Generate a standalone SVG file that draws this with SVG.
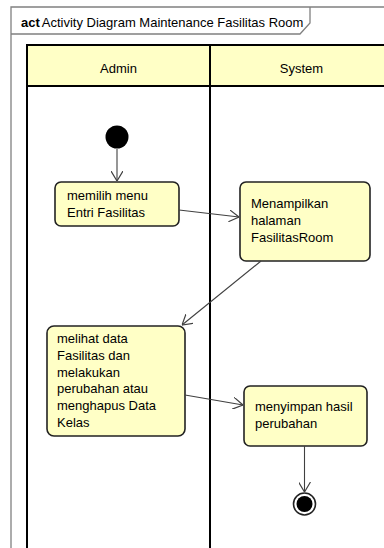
<svg xmlns="http://www.w3.org/2000/svg" width="384" height="548" viewBox="0 0 384 548">
<defs>
<style>
.frame{fill:none;stroke:#808080;stroke-width:1.3}
.lane{fill:none;stroke:#000;stroke-width:2}
.hdr{fill:#ffffc6;stroke:none}
.act{fill:#ffffc6;stroke:#222;stroke-width:1.6}
.t{font-family:"Liberation Sans",Arial,sans-serif;font-size:13px;fill:#000}
.c{text-anchor:middle}
.edge{fill:none;stroke:#404040;stroke-width:1.1}
</style>
<marker id="arr" viewBox="0 0 10 12" refX="10" refY="6" markerWidth="10" markerHeight="12" markerUnits="userSpaceOnUse" orient="auto">
<path d="M0,0 L10,6 L0,12" fill="none" stroke="#404040" stroke-width="1.2"/>
</marker>
</defs>
<rect width="384" height="548" fill="#fff"/>
<g id="frame">
<path class="frame" d="M11,548 L11,7 L384,7"/>
<path class="frame" d="M11,34 L300,34 L310,23 L310,7"/>
<text class="t" x="21" y="27"><tspan font-weight="bold">act</tspan><tspan dx="2">Activity Diagram Maintenance Fasilitas Room</tspan></text>
</g>
<g id="lanes">
<rect class="hdr" x="27" y="45" width="357" height="41"/>
<path class="lane" d="M27,548 L27,45 L384,45 M27,86 L384,86 M210,45 L210,548"/>
<text class="t c" x="118.5" y="73">Admin</text>
<text class="t c" x="301.5" y="73">System</text>
</g>
<g id="start">
<circle cx="117" cy="137" r="11.5" fill="#000"/>
</g>
<g id="n1">
<rect class="act" x="55" y="182" width="124" height="44" rx="6"/>
<text class="t" x="67" y="200">memilih menu</text>
<text class="t" x="67" y="217">Entri Fasilitas</text>
</g>
<g id="n2">
<rect class="act" x="240" y="182" width="130" height="79" rx="6"/>
<text class="t" x="251" y="208">Menampilkan</text>
<text class="t" x="251" y="225">halaman</text>
<text class="t" x="251" y="242">FasilitasRoom</text>
</g>
<g id="n3">
<rect class="act" x="47" y="326" width="138" height="110" rx="7"/>
<text class="t" x="57" y="343">melihat data</text>
<text class="t" x="57" y="360">Fasilitas dan</text>
<text class="t" x="57" y="377">melakukan</text>
<text class="t" x="57" y="393">perubahan atau</text>
<text class="t" x="57" y="410">menghapus Data</text>
<text class="t" x="57" y="427">Kelas</text>
</g>
<g id="n4">
<rect class="act" x="244" y="386" width="123" height="60" rx="6"/>
<text class="t" x="255" y="411">menyimpan hasil</text>
<text class="t" x="255" y="428">perubahan</text>
</g>
<g id="end">
<circle cx="304.5" cy="504" r="11" fill="#fff" stroke="#222" stroke-width="1.6"/>
<circle cx="304.5" cy="504" r="8" fill="#000"/>
</g>
<g id="edges">
<line class="edge" x1="117" y1="149" x2="117" y2="181" marker-end="url(#arr)"/>
<line class="edge" x1="179" y1="210" x2="239" y2="217" marker-end="url(#arr)"/>
<line class="edge" x1="261" y1="261" x2="182" y2="325" marker-end="url(#arr)"/>
<line class="edge" x1="185" y1="395" x2="243" y2="405" marker-end="url(#arr)"/>
<line class="edge" x1="304.5" y1="446" x2="304.5" y2="492" marker-end="url(#arr)"/>
</g>
</svg>
